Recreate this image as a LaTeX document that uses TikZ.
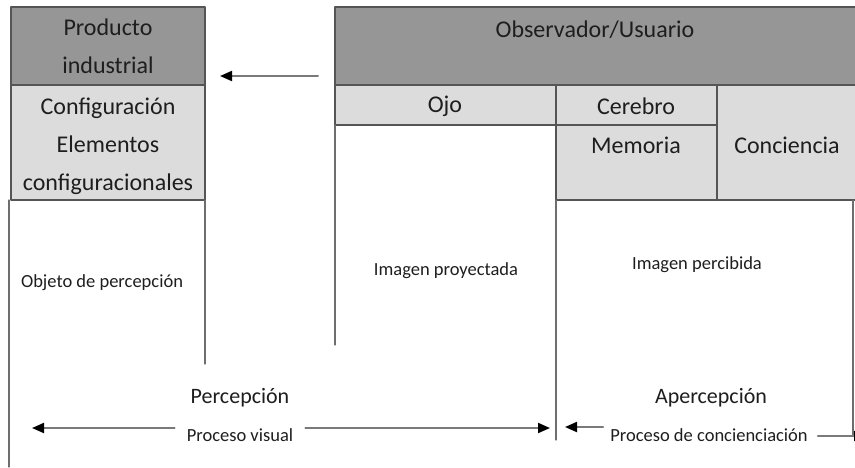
\documentclass[tikz,border=0pt]{standalone}
\usepackage{fontspec}
\setmainfont{Carlito}
\usepackage{tikz}
\usetikzlibrary{arrows.meta}
\definecolor{headgray}{HTML}{969696}
\definecolor{cellgray}{HTML}{DCDCDC}
\definecolor{rulegray}{HTML}{555555}
\definecolor{textgray}{HTML}{1E1E1E}
\definecolor{shaftgray}{HTML}{7A7A7A}
\tikzset{
    big/.style={
        font=\fontsize{24}{38}\selectfont, text=textgray, align=center, inner sep=0pt
    },
    mid/.style={
        font=\fontsize{22}{26}\selectfont, text=textgray, inner sep=0pt
    },
    small/.style={
        font=\fontsize{18.5}{22}\selectfont, text=textgray, inner sep=0pt
    },
    cell/.style={draw=rulegray, line width=1.4pt},
    guide/.style={draw=rulegray!85, line width=1.1pt},
    arr/.style={
        draw=shaftgray, line width=2pt,
        -{Triangle[length=12pt,width=10pt,color=black,fill=black]}
    }
}

\begin{document}
\begin{tikzpicture}[x=1pt,y=-1pt,line cap=round,line join=round]
\useasboundingbox (0,0) rectangle (855,467);

% product block on the left
\draw[cell, fill=headgray] (11,7) rectangle (205,85);
\draw[cell, fill=cellgray] (11,85) rectangle (205,200);
\node[big] (producto) at (108,46.5) {Producto\\industrial};
\node[big] (config) at (108,146.5) {Configuración\\Elementos\\configuracionales};

% observer block on the right (runs off the page)
\draw[cell, fill=headgray] (335,7) rectangle (860,85);
\draw[cell, fill=cellgray] (335,85) rectangle (556,125);
\draw[cell, fill=cellgray] (556,85) rectangle (717,125);
\draw[cell, fill=cellgray] (556,125) rectangle (717,200);
\draw[cell, fill=cellgray] (717,85) rectangle (860,200);
\node[big] (usuario) at (595,30) {Observador/Usuario};
\node[big] (ojo) at (445,106) {Ojo};
\node[big] (cerebro) at (636,106) {Cerebro};
\node[big] (memoria) at (636,145) {Memoria};
\node[big] (conciencia) at (787,145) {Conciencia};

% vertical guide lines
\draw[guide] (9,200) -- (9,467);
\draw[guide] (205,200) -- (205,364);
\draw[guide] (335,125) -- (335,345);
\draw[guide] (556,200) -- (556,440);
\draw[guide] (853,200) -- (853,435);

% column texts
\node[small] (objeto) at (102,283) {Objeto de percepción};
\node[small] (proyectada) at (446,271) {Imagen proyectada};
\node[small] (percibida) at (697,265) {Imagen percibida};

% process labels
\node[mid] (percepcion) at (240,398) {Percepción};
\node[small] (visual) at (240,435) {Proceso visual};
\node[mid] (apercepcion) at (711,398) {Apercepción};
\node[small] (concienc) at (709,435) {Proceso de concienciación};

% arrow ends
\coordinate (miraIni) at (318,76);
\coordinate (miraFin) at (220,76);
\coordinate (visIzq) at (32,428);
\coordinate (visDer) at (550,428);
\coordinate (conIzq) at (565,427);
\coordinate (conDer) at (866,436);

% arrows
\draw[arr] (miraIni) -- (miraFin);
\draw[arr] (visual.west |- visIzq) ++(-12,0) -- (visIzq);
\draw[arr] (visual.east |- visDer) ++(12,0) -- (visDer);
\draw[arr] (concienc.west |- conIzq) ++(-7,0) -- (conIzq);
\draw[arr] (concienc.east |- conDer) ++(10,0) -- (conDer);

\end{tikzpicture}
\end{document}
